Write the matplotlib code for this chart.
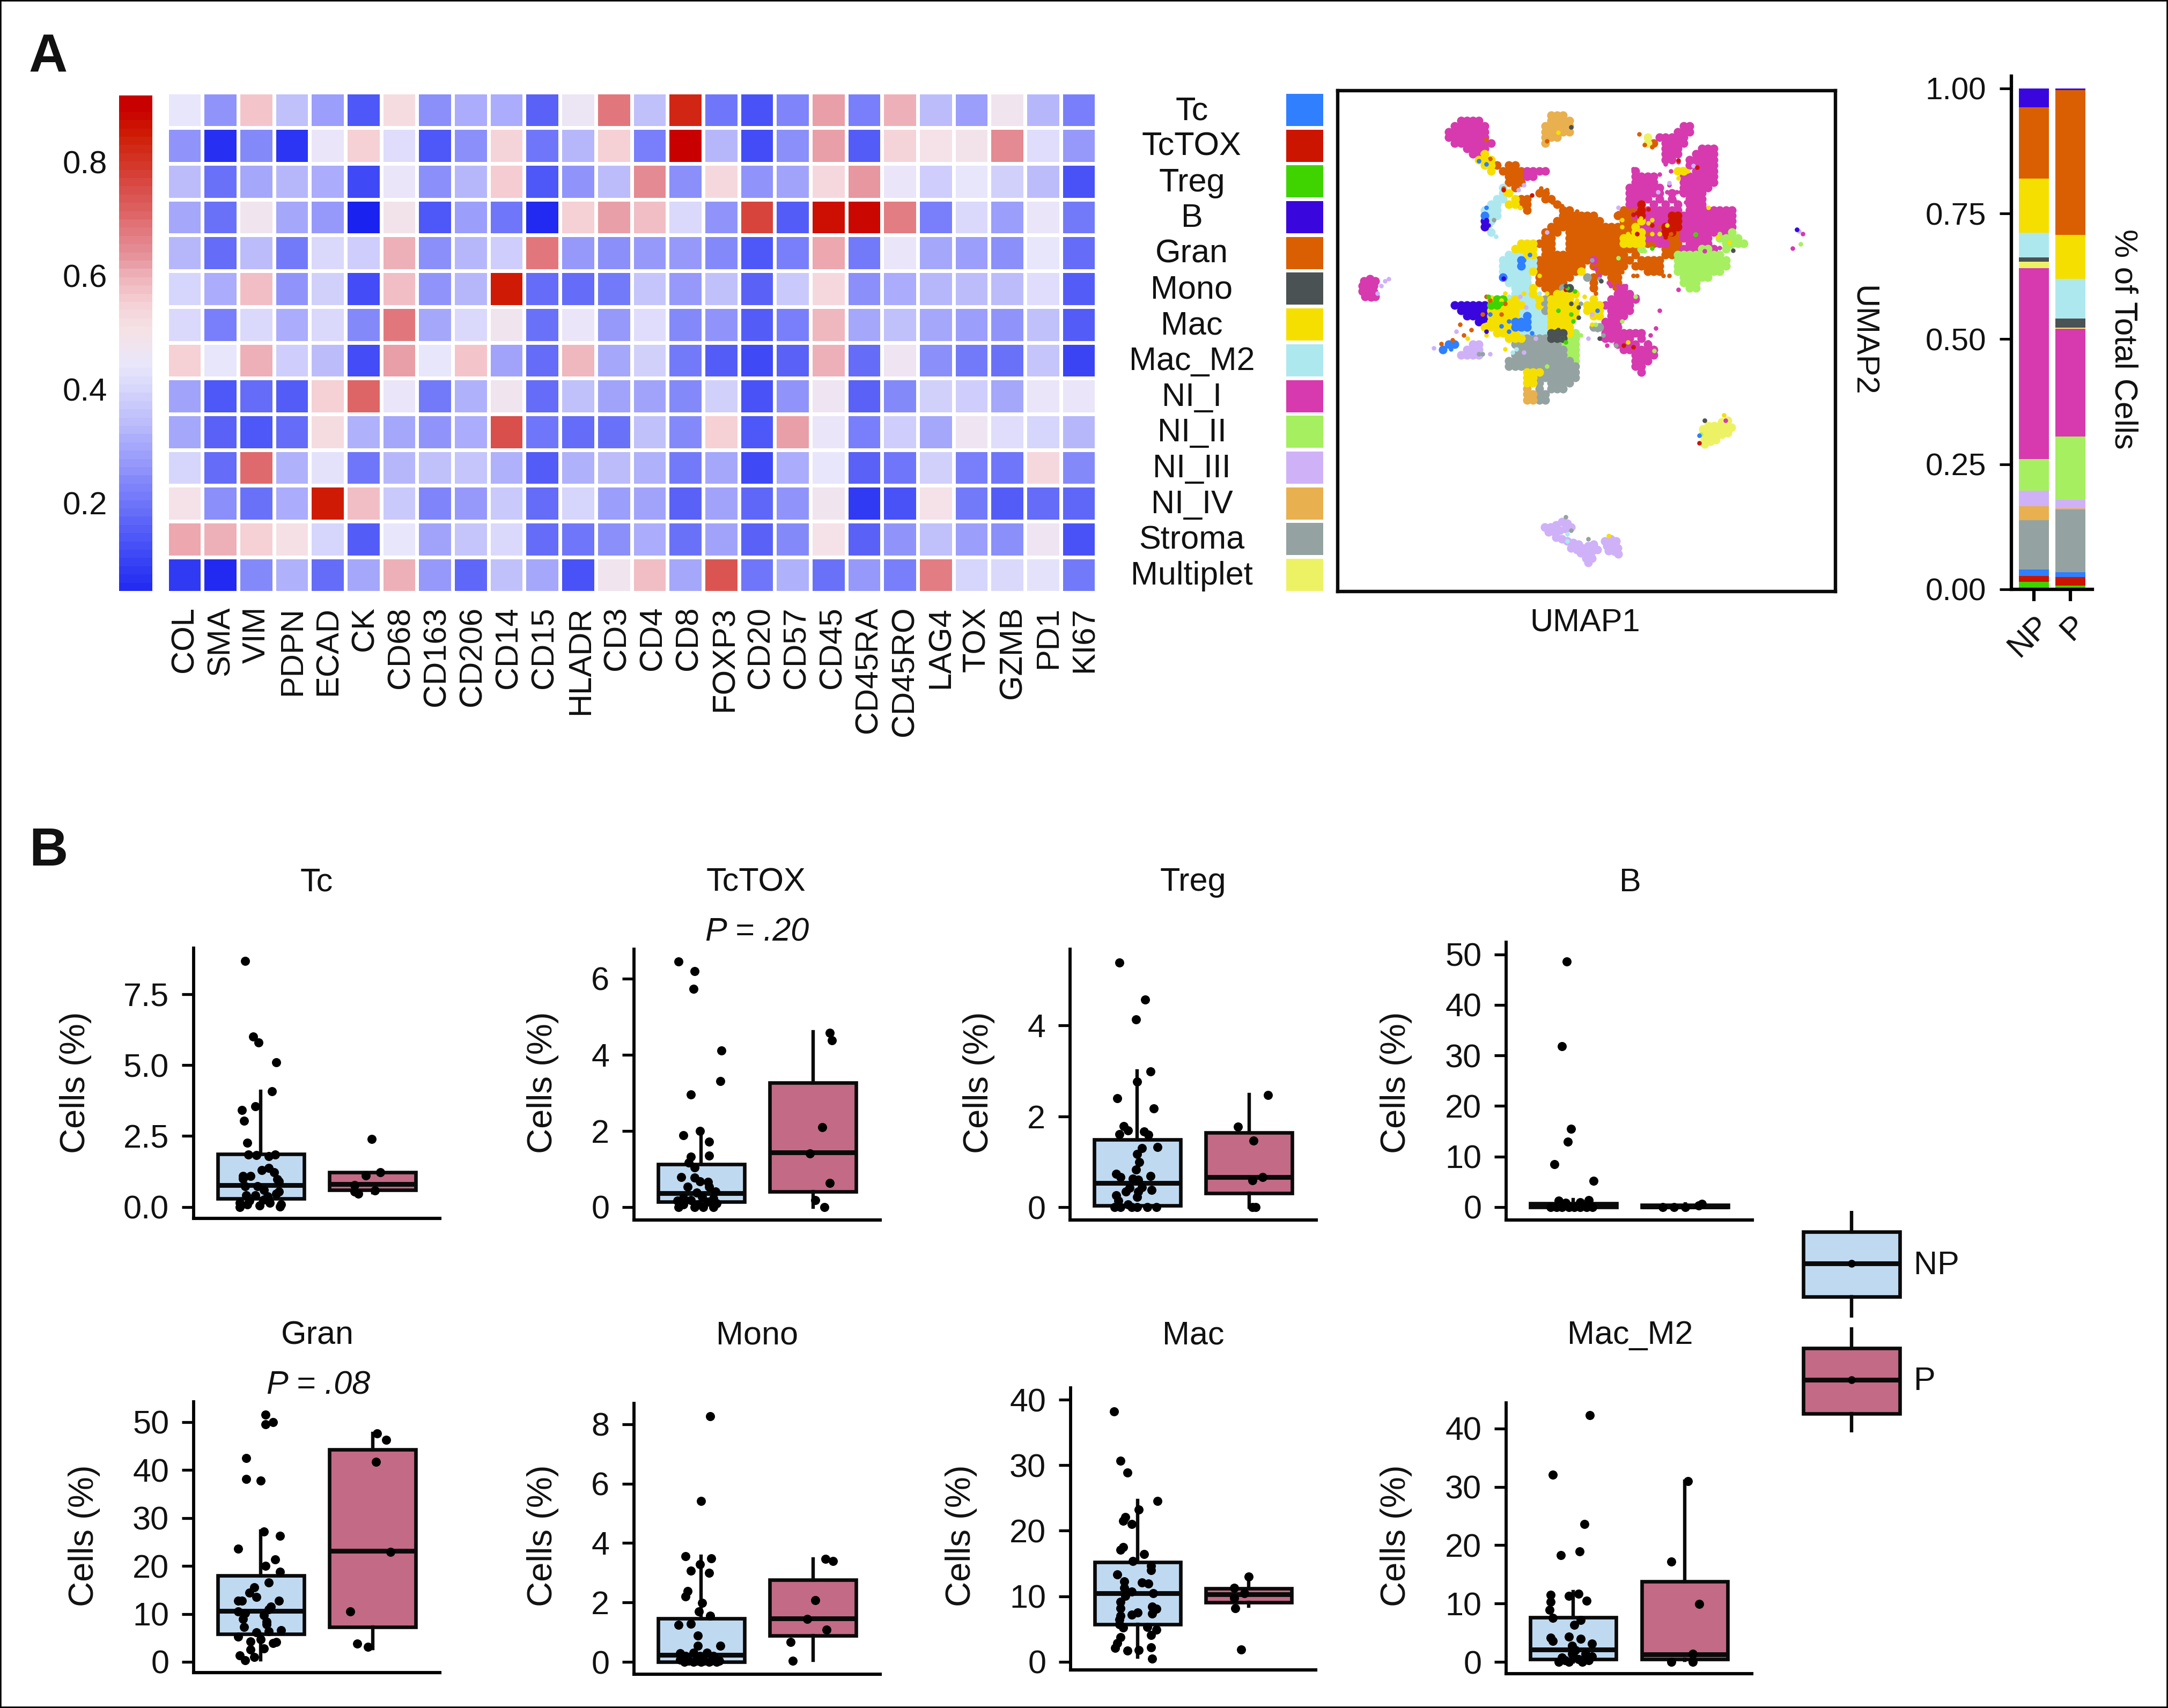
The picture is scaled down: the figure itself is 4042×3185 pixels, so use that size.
import numpy as np
import matplotlib
matplotlib.use("Agg")
import matplotlib.pyplot as plt
from matplotlib.colors import LinearSegmentedColormap, Normalize
from matplotlib.patches import Rectangle
from matplotlib.transforms import blended_transform_factory

plt.rcParams['font.family'] = ['Liberation Sans', 'DejaVu Sans']
INK = '#111111'
W, H = 4042, 3185
fig = plt.figure(figsize=(W/100, H/100), dpi=100, facecolor='white')

def axpx(l, t, r, b, **kw):
    return fig.add_axes([l/W, 1-b/H, (r-l)/W, (b-t)/H], **kw)

def ftext(x, y, s, **kw):
    kw.setdefault('ha', 'center'); kw.setdefault('va', 'center')
    kw.setdefault('fontsize', 43); kw.setdefault('color', INK)
    fig.text(x/W, 1-y/H, s, **kw)

# ------------------------------------------------------------ data
cell_types = ['Tc','TcTOX','Treg','B','Gran','Mono','Mac','Mac_M2','NI_I','NI_II','NI_III','NI_IV','Stroma','Multiplet']
type_colors = ['#2f7fff','#cc1500','#3fd400','#3a06de','#d95f02','#4a5254','#f5df00','#aee8ef','#d63aae','#a6ef60','#cfb1f8','#e8b04f','#94a3a1','#edf264']
markers = ['COL','SMA','VIM','PDPN','ECAD','CK','CD68','CD163','CD206','CD14','CD15','HLADR','CD3','CD4','CD8','FOXP3','CD20','CD57','CD45','CD45RA','CD45RO','LAG4','TOX','GZMB','PD1','KI67']

expr_Tc    = [.44,.26,.57,.35,.28,.14,.52,.25,.31,.31,.16,.46,.68,.35,.83,.20,.13,.23,.62,.22,.60,.34,.28,.48,.33,.22]
expr_TcTOX = [.26,.06,.24,.07,.45,.55,.42,.14,.25,.54,.20,.33,.55,.22,.91,.33,.12,.25,.62,.15,.54,.50,.49,.65,.42,.27]
expr_Treg  = [.34,.19,.30,.33,.31,.11,.45,.25,.33,.56,.14,.26,.34,.65,.25,.53,.26,.29,.53,.63,.45,.38,.44,.39,.34,.13]
expr_B     = [.30,.19,.48,.30,.27,.03,.49,.14,.28,.20,.05,.55,.62,.58,.41,.26,.77,.15,.87,.88,.67,.22,.41,.28,.45,.21]
expr_Gran  = [.33,.18,.34,.21,.41,.38,.60,.25,.33,.38,.68,.27,.25,.27,.27,.24,.14,.22,.61,.21,.45,.30,.28,.25,.44,.18]
expr_Mono  = [.40,.31,.58,.26,.39,.12,.58,.26,.33,.85,.18,.18,.21,.36,.27,.35,.16,.37,.53,.25,.31,.33,.34,.34,.42,.15]
expr_Mac   = [.41,.22,.41,.31,.41,.24,.68,.30,.41,.48,.19,.45,.27,.42,.24,.26,.15,.22,.59,.30,.35,.30,.28,.26,.35,.15]
expr_M2    = [.55,.44,.60,.38,.34,.12,.62,.44,.57,.29,.18,.59,.30,.39,.21,.15,.11,.16,.60,.18,.47,.25,.21,.19,.36,.10]
expr_NI1   = [.29,.14,.18,.15,.55,.71,.45,.21,.32,.48,.18,.35,.29,.29,.24,.39,.13,.26,.47,.16,.24,.39,.38,.30,.45,.45]
expr_NI2   = [.30,.16,.14,.18,.52,.32,.30,.26,.31,.75,.20,.18,.19,.35,.24,.55,.14,.62,.45,.22,.38,.30,.47,.42,.40,.33]
expr_NI3   = [.40,.18,.70,.32,.43,.20,.33,.35,.36,.32,.15,.32,.34,.32,.21,.30,.11,.31,.44,.16,.20,.39,.22,.20,.53,.24]
expr_NI4   = [.50,.25,.19,.31,.85,.58,.37,.23,.27,.37,.18,.40,.28,.29,.16,.29,.17,.26,.48,.08,.13,.50,.21,.15,.18,.17]
expr_Strom = [.61,.60,.55,.51,.40,.15,.44,.29,.36,.41,.18,.20,.25,.31,.19,.29,.16,.24,.50,.16,.26,.35,.28,.25,.47,.13]
expr_Multi = [.08,.05,.24,.32,.18,.30,.60,.27,.17,.35,.30,.13,.48,.58,.30,.74,.20,.32,.19,.27,.22,.67,.40,.41,.43,.21]

cb_ticks = [0.2, 0.4, 0.6, 0.8]
stack_order = ['Treg','TcTOX','Tc','Stroma','NI_IV','NI_III','NI_II','NI_I','Multiplet','Mono','Mac_M2','Mac','Gran','B']
stack_NP = [.015,.012,.013,.098,.028,.031,.063,.381,.013,.009,.049,.108,.142,.038]
stack_P  = [.008,.017,.009,.125,.003,.017,.126,.215,.003,.018,.079,.088,.289,.003]

# UMAP embedding, cell by cell. One letter per population:
# g Gran, m NI_I, n NI_II, s Stroma, y Mac, c Mac_M2, t Tc, b B, r TcTOX, v Treg, d Mono, e NI_IV, u Multiplet, 3 NI_III
umap_map = [
".......... .......... .......... ..eee.....",
".......... .......mmm m......... ..eeee....",
".......... ......mmmm mm........ .eeeee.... .......... ....mm....",
".......... .....mmmmm mm........ .eeeee.... .......... ...mmm....",
".......... .....mmmmm mm........ .eee...... ........u. mmmmm.....",
".......... ......mmmm mmm....... .e........ ........ug .mmmm.....",
".......... ........mm mm........ .......... .......... .mmm...mmm",
".......... .........m my........ .......... .......... .mmm..mmmm",
".......... .......... yyy....... .......... .......... .mm..mmmmm",
".......... .......... .yyg.gg... .......... .......... .....mmmmm",
".......... .......... ..y.ggggmm mm........ ......m... ...yy.mmmm",
".......... .......... .....gggmm .......... ......mmmm ....mmmmmm",
".......... .......... .....ggg.. .......... ......mmmm ....mmmmmm",
".......... .......... ....c.g... .......... .....mmmmm m...mmmmm.",
".......... .......... ....cy.... gg........ .....mmmmm m.m.mmmm..",
".......... .......... ...cc.ygg. .gg....... .....mmmm. m.m..mmm..",
".......... .......... ..cc.yygg. ...g...... .....mmr.m .m.m.mmm..",
".......... .......... .ccc....g. ....gg.... ....gggrmm mmmm.mmmmm mmm",
".......... .......... .tcc...... ....gggggg ...gggmrmm mmrrmmmmmm mmm",
".......... .......... .bc....... ...ggggggg g...gggymm mmrrmmmmmm mmm",
".......... .......... .b........ ..gggggggg ggggggymmm grrrmmmmmm mmm",
".......... .......... ..c....... .ggg.ggggg ggggggyymm mrrgmmmmmm mmn",
".......... .......... .......... .gg..ggggg ggggyyyymm mgggmmmmm. nnnn",
".......... .......... .......yyy ggg..ggggg ggggyyyygg mmgg.mmmm. .nnnn",
".......... .......... ......yyyy .gg..ggggg gggggggn.. .gggmmmnnm .n",
".......... .......... .....cccyy .ggggggggg ggggg.g... .ggnnnnnnn n",
".......... .......... ....ccctcc gggggggggm gggggg.ggg g..nnnnnnn nn",
".......... .......... ....ccctcc gggggggg.g ggggg.gggg g..nnnnnnn nn",
".......... .......... ....cccccy gggggggy.. gggg....gg g..nnnnnnn n",
".......... .......... ....tcccc. gggggg..sg ..gg...... ....nnnnn.",
".......... .......... .....cccc. ggggg....g ..gg...... ....nnn...",
".......... .......... ......cccy .gggsd...g ...mm..... .....nn...",
".......... .......... ......cccy ..gyyyy... ...mmm....",
".......... .......... ..yvvyyccc ysyyyy...y ..mmmmm...",
".......... ......bbbb bbvvyyyycc ysyyyyy.yy ymmmmm....",
".......... .......bbb bbyyyyyccc csyyyyy.yy y.mmmm....",
".......... ........bb bbyyyyyctc ccyyyyy..y y.mmm.....",
".......... .......... bbyyyytttc ccyyyy.... .mmm......",
".......... .......... .yyyyytttc ccyyyy...s smmm......",
".......... .......... ...yyyyccc ccdddyn... .mmmmmmm..",
".......... .......... .....yyyss ssdddnn... .mmmmm.m..",
".......... .....tt..3 3.....ssss ssssnnn... ...mmmm.m.",
".......... ....t...33 3......sss sssssnn... ....mmmmmm",
".......... .......333 3.....ssss sssssnn... ......mmmm",
".......... .......... .....sssss ssssssn... ......mmm.",
".......... .......... .....sssss sssssss... ......mm..",
".......... .......... ........yy yssssss... .......m..",
".......... .......... ........yy sssssss...",
".......... .......... ........yy s.ssss....",
".......... .......... ........e. s.sss.....",
".......... .......... ........ee ss........",
".......... .......... ........ee ss........",
]
umap_codes = {'g':'Gran','c':'Mac_M2','m':'NI_I','n':'NI_II','s':'Stroma','3':'NI_III','e':'NI_IV','u':'Multiplet','b':'B','y':'Mac','t':'Tc','v':'Treg','d':'Mono','r':'TcTOX'}
# separate islands of the embedding
core_NI1 = [(275,605),(290,600),(305,605),(270,620),(285,617),(300,620),(270,635),(285,633),(300,636),(278,650),(293,652),(305,650)]
core_NI3 = [(755,1310),(770,1310),(785,1305),(800,1295),(815,1300),(765,1325),(780,1325),(795,1320),(810,1315),(825,1310),(785,1340),(800,1345),(815,1350),(830,1355),(845,1360),(825,1370),(840,1375),(855,1370),(870,1365),(885,1360),(850,1385),(865,1385),(880,1380),(895,1375),(865,1400),(880,1400),(870,1412),(915,1350),(930,1345),(945,1350),(920,1365),(935,1362),(948,1370),(925,1378),(940,1380),(950,1388)]
core_Multi = [(1175,1030),(1190,1020),(1205,1020),(1225,1010),(1240,1005),(1175,1045),(1190,1035),(1205,1035),(1220,1030),(1235,1025),(1250,1025),(1180,1060),(1195,1050),(1210,1050),(1225,1045),(1240,1040),(1180,1072),(1195,1065),(1210,1060)]

spk_Gran = [(610,255),(630,270),(600,200),(690,395),(705,380),(650,295),(645,340),(800,390),(820,400),(1050,580),(1070,590),(1000,590),(960,580),(940,625),(890,640),(560,745),(530,730),(480,785),(510,775),(540,760),(1020,215),(1040,222),(1000,470),(1090,470),(1030,470),(960,430),(950,410),(600,650),(590,700),(650,670),(640,700),(760,345),(745,340),(775,380),(840,405),(860,415),(1085,590),(990,590),(610,660),(1005,185),(760,205)]
spk_Mac = [(590,240),(600,260),(610,290),(680,365),(690,395),(660,385),(650,355),(1120,285),(1110,310),(1135,290),(960,430),(975,470),(960,450),(1040,430),(1060,470),(1080,445),(1215,480),(1245,495),(1190,395),(975,780),(880,730),(860,650),(600,760),(650,800),(745,870),(790,180),(1230,990),(925,1335),(550,770),(700,640),(650,640),(840,660),(600,730),(640,660),(680,670),(730,650),(760,640),(715,505),(740,590),(1040,470),(1030,440),(1010,425)]
spk_NI1 = [(1080,350),(1100,375),(1060,300),(1085,330),(1115,350),(1130,380),(1080,390),(1040,400),(1065,375),(1090,290),(1105,350),(1075,270),(950,650),(930,680),(930,620),(940,740),(990,760),(1030,780),(890,570),(900,590),(925,610),(1110,630),(1220,510),(1180,520),(1440,470),(1413,512),(615,210),(1235,1005),(905,770),(920,790),(990,285),(1110,265),(1050,740),(1035,760),(970,620),(1000,650),(1060,690)]
spk_NI2 = [(1250,505),(1220,470),(1230,490),(1155,472),(1435,500),(960,720),(995,650),(1045,805),(1170,1045),(760,850),(850,760),(890,730),(950,540),(1060,470),(1020,520),(1285,495)]
spk_NI3 = [(700,330),(685,345),(1150,275),(1085,325),(1055,350),(950,395),(760,465),(610,815),(520,750),(460,798),(330,605),(310,640),(320,620),(340,600),(705,680),(730,770),(690,650),(1430,462),(880,700),(870,770),(700,810)]
spk_Stroma = [(590,815),(580,815),(620,430),(610,445),(825,165),(810,1282),(825,1320),(870,1345),(880,545),(900,600),(910,760),(895,745),(945,790),(850,670),(1180,1005),(755,690),(750,670)]
spk_Tc = [(600,395),(610,700),(640,735),(660,720),(720,755),(700,545),(715,530),(640,598),(1425,458),(895,690),(1165,1048),(965,790),(660,750),(600,270),(580,262),(505,800)]
spk_TcTOX = [(1030,400),(1000,410),(990,415),(1040,445),(1000,470),(1085,460),(1075,480),(1110,260),(1160,280),(645,345),(965,790),(990,795),(810,630),(720,360),(1165,1070)]
spk_Treg = [(605,650),(640,670),(800,770),(815,625),(825,700),(1040,512),(1155,472),(790,690),(830,720),(810,780),(835,635)]
spk_Mono = [(810,620),(825,670),(845,680),(845,710),(1255,518),(900,770),(1180,1005),(905,605),(825,165),(790,745),(800,770)]
spk_B = [(600,430),(605,445),(645,598),(1425,458),(600,750)]
spk_M2 = [(625,478),(610,445),(815,1350),(815,1330),(660,650),(740,640),(680,800),(670,810)]

# Box statistics (q1, median, q3, whisker low, whisker high) for NP, P
box_stats = {
 'Tc':     [(.30,.77,1.87,.05,4.07), (.60,.80,1.23,.50,1.23)],
 'TcTOX':  [(.14,.37,1.13,.0,1.95), (.41,1.43,3.26,.0,4.60)],
 'Treg':   [(.04,.54,1.49,.0,3.0), (.31,.67,1.64,.0,2.48)],
 'B':      [(.0,.35,.70,.0,1.5), (.0,.15,.45,.0,.6)],
 'Gran':   [(5.8,10.6,18.0,.4,27.3), (7.3,23.2,44.3,2.8,47.6)],
 'Mono':   [(.0,.24,1.46,.0,3.56), (.89,1.47,2.76,.05,3.47)],
 'Mac':    [(5.76,10.5,15.2,.7,24.6), (9.05,10.3,11.2,8.5,13.0)],
 'Mac_M2': [(.43,2.13,7.65,.0,12.0), (.43,1.26,13.8,.3,31.0)],
}
# Jittered points: value and horizontal offset from the box centre
Tc_NP_y = [8.67,6.0,5.79,5.09,4.07,3.41,3.54,3.03,2.27,1.84,1.82,1.8,1.84,1.37,1.3,1.22,1.1,1.1,1.0,.98,.91,.73,.73,.6,.55,.46,.41,.41,.37,.14,.09,.05,.14,.09,0,.02,.23,.27]
Tc_NP_x = [-.14,-.07,-.02,.14,.1,-.17,-.05,-.15,-.12,-.11,-.04,.07,.13,.07,.01,.12,-.16,-.09,-.16,.15,.16,-.14,-.03,.03,.16,.14,-.13,-.05,.06,-.19,-.12,-.01,.08,.18,-.19,.17,-.1,.03]
Tc_P_y = [2.39,1.23,1.12,.78,.55,.46,.59]
Tc_P_x = [-.01,.07,-.06,-.16,-.16,-.13,.02]
TcTOX_NP_y = [6.45,6.19,5.73,4.11,3.31,2.95,2.0,1.88,1.71,1.32,1.35,1.16,1.04,.78,.77,.68,.66,.53,.53,.41,.38,.24,.27,.23,.17,.18,.14,.09,.07,0,0,0,0,.07]
TcTOX_NP_x = [-.2,-.06,-.07,.18,.17,-.09,-.01,-.16,.07,-.09,.07,-.11,-.06,-.18,-.06,-.01,.06,-.12,.07,.13,-.04,-.16,.01,.11,-.21,-.09,.06,.14,-.16,-.2,-.06,.02,.11,-.03]
TcTOX_P_y = [4.57,4.37,2.09,1.41,.63,.18,0]
TcTOX_P_x = [.15,.17,.08,-.03,.15,.02,.1]
Treg_NP_y = [5.39,4.57,4.13,2.99,2.77,2.4,2.17,1.79,1.69,1.67,1.61,1.6,1.33,1.3,1.17,1.0,.83,.73,.69,.66,.63,.6,.43,.44,.38,.34,.34,.23,.26,.15,.06,0,0,0,0,0,0]
Treg_NP_x = [-.16,.07,-.01,.12,0,-.18,.15,-.12,-.08,.06,-.16,.1,.18,.04,0,.02,-.01,-.19,.12,-.15,-.04,.01,-.07,.04,.13,-.1,.01,0,-.19,-.17,-.08,-.2,-.15,-.05,.09,.17,0]
Treg_P_y = [2.47,1.77,1.47,.67,.59,0,0]
Treg_P_x = [.17,-.1,.04,.12,.03,.03,.06]
B_NP_y = [48.6,31.8,15.5,12.9,8.5,5.2,1.3,1.4,1.0,.8,0,0,0,0,0,0,0,0]
B_NP_x = [-.06,-.1,-.02,-.05,-.17,.18,-.13,.14,.06,-.07,-.2,-.15,-.1,-.04,.01,.06,.12,.17]
B_P_y = [.6,.3,0,0,0]
B_P_x = [.15,.12,-.2,0,-.1]
Gran_NP_y = [51.6,50,49.6,42.5,38.1,37.8,27.2,26.3,23.6,21.4,20,18.8,16.5,15.6,14.4,13.5,12.7,12.7,12.8,11.5,11,10.5,10.2,9.7,8.9,8.4,7.8,7.3,6.6,6.4,6.2,5.2,4.7,4.2,4.1,3.9,2.6,2.8,1.3,1.05,.3]
Gran_NP_x = [.04,.11,.04,-.13,-.13,0,.03,.17,-.2,.13,.04,.17,.07,-.06,-.1,-.04,-.2,-.17,.16,.09,.07,-.2,-.14,.03,-.16,.05,.05,-.15,.18,.07,-.04,-.2,0,-.09,.14,.11,-.09,.03,-.19,-.06,-.14]
Gran_P_y = [47.7,46.3,41.7,22.9,10.5,3.8,3.1]
Gran_P_x = [.04,.12,.03,.16,-.2,-.14,-.04]
Mono_NP_y = [8.26,5.41,3.56,3.49,3.28,3.06,3.0,2.38,2.21,1.98,1.69,1.56,1.29,1.24,.89,.54,.54,.28,.31,.31,.2,.2,.2,.07,.03,.03,.03,.03,.03,0,0,0,0,0]
Mono_NP_x = [.08,0,-.14,.09,-.01,-.09,.07,-.12,-.14,.01,-.02,.08,-.09,-.2,-.03,.17,-.03,-.19,-.07,.05,-.14,-.01,.11,-.19,-.11,-.04,.03,.09,.16,-.15,-.07,0,.07,.14]
Mono_P_y = [3.46,3.39,2.07,1.45,1.09,.66,.03]
Mono_P_x = [.11,.18,.02,-.05,.12,-.2,-.18]
Mac_NP_y = [38.2,30.7,28.9,24.5,23.2,22.1,21.5,21,17.5,17.1,16.4,15.4,14.6,14,13.3,12.3,12.1,11.9,11.3,10.7,10.5,10.1,9.2,8.2,8.4,8.1,7.4,7.5,7.2,7,6.5,5.7,5.2,5.3,4.9,4.1,3.8,2.9,2.1,2.2,1.7,1.8,.5]
Mac_NP_x = [-.21,-.15,-.09,.18,.01,-.11,-.13,-.05,-.13,-.15,.06,-.04,.12,.12,-.18,-.12,.04,.1,-.12,-.05,.14,-.11,-.15,-.15,.13,.17,.13,0,-.05,-.15,-.16,-.16,-.13,.09,.17,.12,-.15,-.18,-.2,.12,-.09,.01,.13]
Mac_P_y = [13,11.3,10.5,9.7,8.2,1.9]
Mac_P_x = [0,-.13,-.04,-.13,-.12,-.07]
M2_NP_y = [42.3,32.1,23.6,18.9,18.3,11.7,11.5,11.3,10.5,10.3,8.9,7.5,7.2,6.3,4.1,4.3,3.6,4,3.1,2.8,2,.7,1.4,1.4,.9,.3,.5,0,0,0,.3,.7]
M2_NP_x = [.15,-.18,.1,.06,-.11,.05,-.2,-.04,.12,-.2,-.21,-.18,.07,.01,-.2,-.04,-.18,.07,.17,-.01,.02,-.1,-.01,.11,.17,-.07,.05,-.04,-.13,.08,.14,.01]
M2_P_y = [31,17.2,9.9,1.4,0,0]
M2_P_x = [.03,-.12,.13,.07,-.12,.07]

# ------------------------------------------------------------ panel A: heatmap
expr = np.array([expr_Tc,expr_TcTOX,expr_Treg,expr_B,expr_Gran,expr_Mono,expr_Mac,expr_M2,expr_NI1,expr_NI2,expr_NI3,expr_NI4,expr_Strom,expr_Multi])
nodes = [(.03,'#1a22f0'),(.10,'#3a44f5'),(.22,'#7a80fa'),(.34,'#bcbcfb'),(.44,'#e8e6fb'),(.506,'#f5e2e6'),(.553,'#f5d0d5'),
         (.60,'#eeb0b8'),(.64,'#e59098'),(.70,'#df6b6e'),(.76,'#d84a44'),(.85,'#cf1c05'),(.895,'#c80000'),(.917,'#c80000')]
lo, hi = nodes[0][0], nodes[-1][0]
cmap = LinearSegmentedColormap.from_list('cb', [((v-lo)/(hi-lo), c) for v, c in nodes], N=256)
norm = Normalize(lo, hi)

ax = axpx(310.7, 171.7, 2044.3, 1105.3)
ax.pcolormesh(np.arange(27), np.arange(15), expr, cmap=cmap, norm=norm, edgecolors='white', linewidth=4.8)
ax.set_ylim(14, 0); ax.set_xlim(0, 26)
ax.set_yticks([])
ax.set_xticks(np.arange(26)*1.0067+.5)
ax.set_xticklabels(markers, rotation=90, fontsize=43, color=INK, ha='center', va='top')
ax.tick_params(axis='x', length=0, pad=18.5)
for s in ax.spines.values(): s.set_visible(False)

cax = axpx(222, 178, 284, 1102)
lev = np.linspace(.045, .917, 61)
cax.pcolormesh([0, 1], lev, ((lev[:-1]+lev[1:])/2)[:, None], cmap=cmap, norm=norm)
cax.set_xticks([]); cax.set_yticks(cb_ticks)
cax.set_yticklabels([f'{t:.1f}' for t in cb_ticks], fontsize=43, color=INK)
cax.tick_params(axis='y', length=0, pad=16)
for s in cax.spines.values(): s.set_visible(False)

# legend column
lax = axpx(2398, 171.7, 2467, 1105.3)
lax.barh(np.arange(14)+.5, [1]*14, height=.9, color=type_colors)
lax.set_xlim(0, 1); lax.set_ylim(14, 0); lax.axis('off')
tr = blended_transform_factory(fig.transFigure, lax.transData)
for i, name in enumerate(cell_types):
    lax.text(2222/W, i+.54, name, transform=tr, ha='center', va='center', fontsize=44, color=INK, clip_on=False)

# UMAP
uax = axpx(2494, 169, 3422, 1103)
uax.set_xlim(205, 1527); uax.set_ylim(1495, 60)
uax.set_xticks([]); uax.set_yticks([])
for s in uax.spines.values(): s.set_linewidth(4.6); s.set_color('#0a0a0a')
col = dict(zip(cell_types, type_colors))
rows = [r.replace(' ', '') for r in umap_map]
for code, name in umap_codes.items():
    xs = [260+16*c for k, r in enumerate(rows) for c, ch in enumerate(r) if ch == code]
    ys = [130+16*k for k, r in enumerate(rows) for c, ch in enumerate(r) if ch == code]
    uax.scatter(xs, ys, s=135, color=col[name], linewidths=0)
for name, pts in [('NI_I',core_NI1),('NI_III',core_NI3),('Multiplet',core_Multi)]:
    a = np.array(pts); uax.scatter(a[:,0], a[:,1], s=135, color=col[name], linewidths=0)
spk_layers = [('Gran',spk_Gran),('NI_I',spk_NI1),('NI_II',spk_NI2),('NI_III',spk_NI3),('Stroma',spk_Stroma),('Mac_M2',spk_M2),('Mac',spk_Mac),
              ('Tc',spk_Tc),('TcTOX',spk_TcTOX),('Treg',spk_Treg),('Mono',spk_Mono),('B',spk_B)]
for name, pts in spk_layers:
    a = np.array(pts); uax.scatter(a[:,0], a[:,1], s=38, color=col[name], linewidths=0)
ftext(2955, 1161, 'UMAP1')
ftext(3472, 636, 'UMAP2', rotation=270)

# stacked bar
sax = axpx(3750, 142, 3901, 1099)
sax.set_xlim(1-42/68, 2+41/68); sax.set_ylim(0, 957/934)
base_n, base_p = 0.0, 0.0
for name, n, p in zip(stack_order, stack_NP, stack_P):
    sax.bar([1, 2], [n, p], bottom=[base_n, base_p], width=.81, color=col[name], linewidth=0)
    base_n += n; base_p += p
sax.spines['top'].set_visible(False); sax.spines['right'].set_visible(False)
sax.spines['left'].set_linewidth(4.5); sax.spines['bottom'].set_linewidth(4.5)
sax.set_yticks([0, .25, .5, .75, 1]); sax.set_yticklabels(['0.00','0.25','0.50','0.75','1.00'], fontsize=42, color=INK)
sax.tick_params(axis='y', length=16, width=3.5, pad=18)
sax.set_xticks([1, 2]); sax.set_xticklabels(['NP', 'P'], fontsize=43, color=INK, rotation=45, ha='right', rotation_mode='anchor')
sax.tick_params(axis='x', length=16, width=4.5, pad=12)
ftext(3959, 632, '% of Total Cells', rotation=270)

# ------------------------------------------------------------ panel B
NP_COL, P_COL = '#bfd9f0', '#c36a86'
def to_bxp(t):
    return dict(q1=t[0], med=t[1], q3=t[2], whislo=t[3], whishi=t[4], fliers=[])
def boxes(a, stats, pos, width):
    r = a.bxp(stats, positions=pos, widths=width, patch_artist=True, showcaps=False, showfliers=False, manage_ticks=False,
              boxprops=dict(linewidth=4.8, edgecolor='#0a0a0a'), medianprops=dict(linewidth=6.4, color='#0a0a0a', solid_capstyle='butt'),
              whiskerprops=dict(linewidth=4.6, color='#0a0a0a'))
    for b, c in zip(r['boxes'], [NP_COL, P_COL]):
        b.set_facecolor(c)
    return r

panels = [
 ('Tc',     (361,1768,820,2272),(-.4,9.12),[0,2.5,5,7.5],['0.0','2.5','5.0','7.5'],Tc_NP_x,Tc_NP_y,Tc_P_x,Tc_P_y,590,1646,141,2019,None,None),
 ('TcTOX',  (1182,1770,1641,2275),(-.34,6.77),[0,2,4,6],['0','2','4','6'],TcTOX_NP_x,TcTOX_NP_y,TcTOX_P_x,TcTOX_P_y,1410,1646,1012,2019,'P = .20',1739),
 ('Treg',   (1995,1770,2454,2275),(-.28,5.68),[0,2,4],['0','2','4'],Treg_NP_x,Treg_NP_y,Treg_P_x,Treg_P_y,2224,1646,1825,2019,None,None),
 ('B',      (2808,1757,3267,2275),(-2.55,52.4),[0,10,20,30,40,50],['0','10','20','30','40','50'],B_NP_x,B_NP_y,B_P_x,B_P_y,3039,1646,2603,2019,None,None),
 ('Gran',   (361,2614,820,3119),(-2.24,54.25),[0,10,20,30,40,50],['0','10','20','30','40','50'],Gran_NP_x,Gran_NP_y,Gran_P_x,Gran_P_y,592,2491,157,2864,'P = .08',2584),
 ('Mono',   (1182,2617,1641,3122),(-.415,8.7),[0,2,4,6,8],['0','2','4','6','8'],Mono_NP_x,Mono_NP_y,Mono_P_x,Mono_P_y,1412,2491,1012,2864,None,None),
 ('Mac',    (1996,2588,2453,3114),(-1.23,41.8),[0,10,20,30,40],['0','10','20','30','40'],Mac_NP_x,Mac_NP_y,Mac_P_x,Mac_P_y,2225,2491,1792,2864,None,None),
 ('Mac_M2', (2808,2616,3266,3121),(-2.02,44.4),[0,10,20,30,40],['0','10','20','30','40'],M2_NP_x,M2_NP_y,M2_P_x,M2_P_y,3039,2491,2603,2864,None,None),
]
for name, rect, yl, yt, ytl, nx, ny, px, py, tx, ty, lx, ly, ptxt, pty in panels:
    a = axpx(*rect)
    a.set_xlim(.4, 2.6); a.set_ylim(*yl)
    boxes(a, [to_bxp(box_stats[name][0]), to_bxp(box_stats[name][1])], [1, 2], .77)
    a.scatter(1+np.array(nx), ny, s=150, color='black', linewidths=0, zorder=5, clip_on=False)
    a.scatter(2+np.array(px), py, s=150, color='black', linewidths=0, zorder=5, clip_on=False)
    a.spines['top'].set_visible(False); a.spines['right'].set_visible(False)
    a.spines['left'].set_linewidth(4.2); a.spines['bottom'].set_linewidth(4.4)
    a.set_xticks([]); a.set_yticks(yt); a.set_yticklabels(ytl, fontsize=44, color=INK)
    a.tick_params(axis='y', length=16, width=3.8, pad=17)
    ftext(tx, ty, name, fontsize=44)
    ftext(lx, ly, 'Cells (%)', rotation=90, fontsize=47)
    if ptxt:
        ftext(tx+2, pty, ptxt, style='italic', fontsize=44)

# box key on the right
key_stats = [(.196,.49,.804,0,1), (.2,.5,.82,0,1)]
key_rows = [(2258,2457,'NP',NP_COL), (2475,2671,'P',P_COL)]
for (top, bot, label, c), st in zip(key_rows, key_stats):
    k = axpx(3352, top, 3552, bot)
    k.set_xlim(0, 1); k.set_ylim(1, 0); k.axis('off')
    r = boxes(k, [to_bxp(st)], [.5], .9)
    r['boxes'][0].set_facecolor(c)
    k.scatter([.5], [st[1]], s=110, color='black', linewidths=0, zorder=5)
    ftext(3568, (top+bot)/2+3, label, ha='left', fontsize=44)

ftext(90, 108, 'A', fontsize=72, fontweight='bold', color='#111111')
ftext(90, 1588, 'B', fontsize=72, fontweight='bold', color='#111111')
fig.add_artist(Rectangle((0, 0), 1, 1, transform=fig.transFigure, fill=False, ec='black', lw=4))

fig.savefig('out.png', dpi=100, facecolor='white')
